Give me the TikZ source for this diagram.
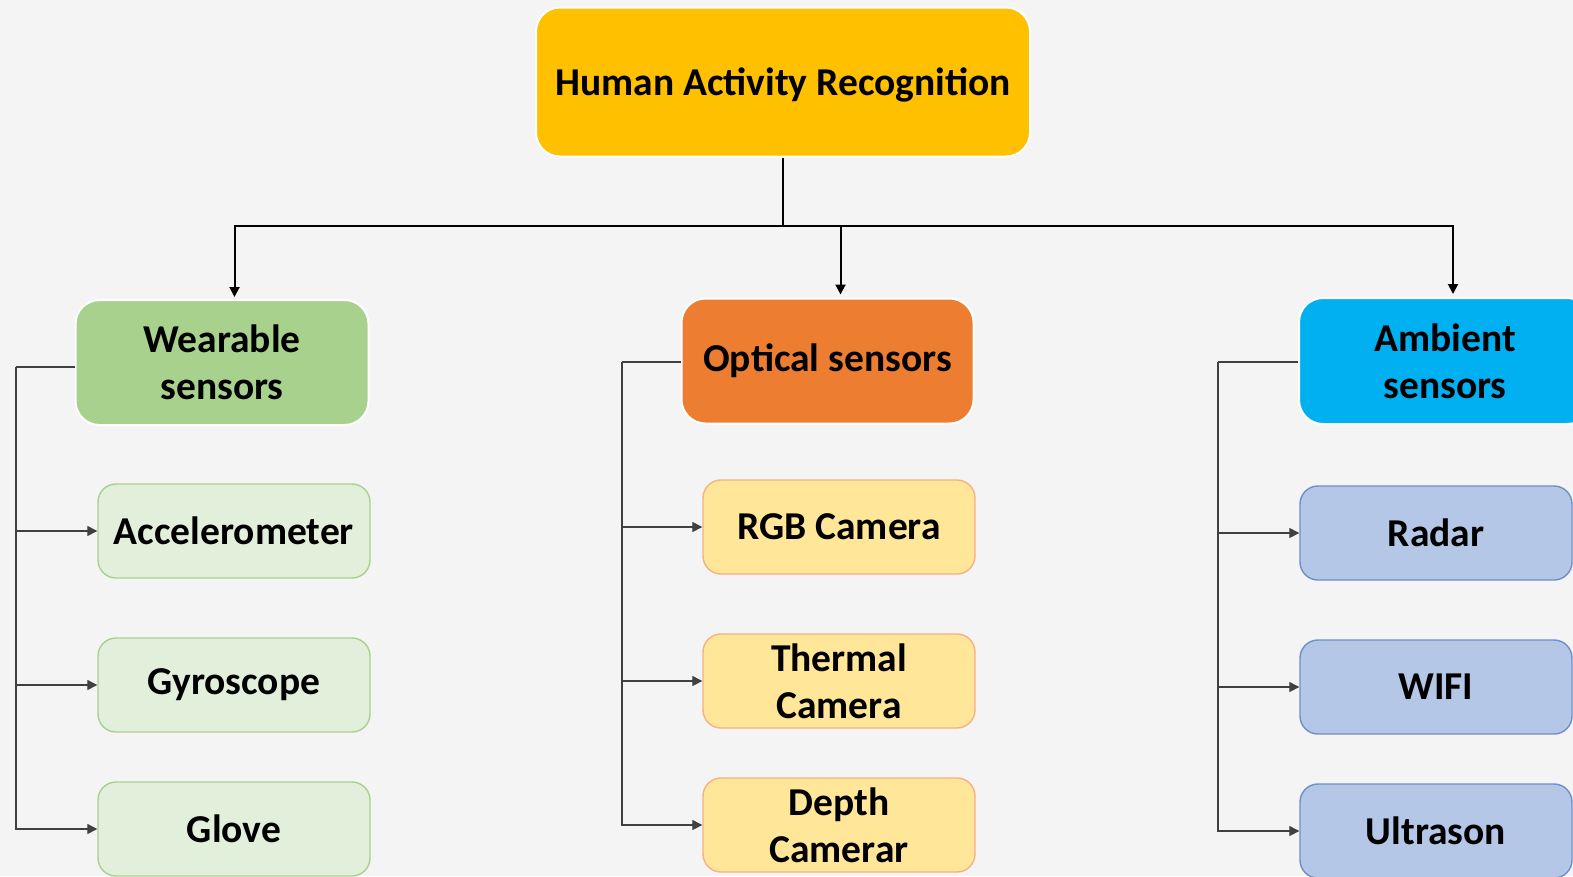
\documentclass[tikz,border=0pt]{standalone}
\usepackage{fontspec}
\setmainfont{Carlito}
\usetikzlibrary{arrows.meta,calc}

\definecolor{bgc}{HTML}{F4F4F4}
\definecolor{harc}{HTML}{FFC000}
\definecolor{wearc}{HTML}{A9D18E}
\definecolor{optc}{HTML}{ED7D31}
\definecolor{ambc}{HTML}{00B0F0}
\definecolor{wchild}{HTML}{E2EFDA}
\definecolor{wchildb}{HTML}{A9D18E}
\definecolor{ochild}{HTML}{FFE699}
\definecolor{ochildb}{HTML}{F4B183}
\definecolor{achild}{HTML}{B4C7E7}
\definecolor{achildb}{HTML}{6F8FC8}
\definecolor{busc}{HTML}{404040}

\tikzset{
  lbl/.style={font=\fontsize{39.5}{47}\selectfont\bfseries, align=center, text=black, inner sep=0pt},
  mainbox/.style={lbl, draw=white, line width=2pt, rounded corners=24pt},
  childbox/.style={lbl, line width=1.4pt, rounded corners=18pt, minimum width=272pt, minimum height=94pt},
  wkid/.style={childbox, fill=wchild, draw=wchildb},
  okid/.style={childbox, fill=ochild, draw=ochildb},
  akid/.style={childbox, fill=achild, draw=achildb},
  trunk/.style={draw=black, line width=2pt},
  bus/.style={draw=busc, line width=1.3pt},
  tip/.style={-{Triangle[length=10pt,width=10pt]}}
}

\begin{document}
\begin{tikzpicture}[x=1pt,y=-1pt]
  \useasboundingbox (0,0) rectangle (1573,876);
  \clip (0,0) rectangle (1573,876);
  \fill[bgc] (0,0) rectangle (1573,876);

  % root
  \node[mainbox, fill=harc, minimum width=494pt, minimum height=149pt] (har) at (783,82) {};
  \node[lbl] at ([yshift=-3pt]har.center) {Human Activity Recognition};

  % sensor families
  \node[mainbox, fill=wearc, minimum width=293pt, minimum height=125pt] (wear) at (222,362.5) {Wearable\\sensors};
  \node[mainbox, fill=optc, minimum width=292pt, minimum height=125pt] (opt) at (827.5,361) {Optical sensors};
  \node[mainbox, fill=ambc, minimum width=292pt, minimum height=126pt] (amb) at (1445,361) {Ambient\\sensors};

  % wearable sensors
  \node[wkid] (acc) at (234,531) {Accelerometer};
  \node[wkid] (gyr) at (234,685) {Gyroscope};
  \node[wkid] (glo) at (234,829) {Glove};

  % optical sensors
  \node[okid] (rgb) at (839,527) {RGB Camera};
  \node[okid] (thm) at (839,681) {Thermal\\Camera};
  \node[okid] (dep) at (839,825) {Depth\\Camerar};

  % ambient sensors
  \node[akid] (rad) at (1436,533) {Radar};
  \node[akid] (wif) at (1436,687) {WIFI};
  \node[akid] (ult) at (1436,831) {Ultrason};

  % root to families
  \coordinate (hub) at (783,226);
  \draw[trunk] (har.south) -- (hub);
  \draw[trunk,tip] (hub) -| ([xshift=12.5pt,yshift=2pt]wear.north);
  \draw[trunk,tip] (hub) -| ([xshift=13pt,yshift=3pt]opt.north);
  \draw[trunk,tip] (hub) -| ([xshift=8pt,yshift=3pt]amb.north);

  % wearable bus
  \coordinate (lb) at (16,367);
  \draw[bus] (wear.west |- lb) -- (lb);
  \draw[bus,tip] (lb) |- (glo.west);
  \draw[bus,tip] (lb |- acc.west) -- (acc.west);
  \draw[bus,tip] (lb |- gyr.west) -- (gyr.west);

  % optical bus
  \coordinate (mb) at (622,362);
  \draw[bus] (opt.west |- mb) -- (mb);
  \draw[bus,tip] (mb) |- (dep.west);
  \draw[bus,tip] (mb |- rgb.west) -- (rgb.west);
  \draw[bus,tip] (mb |- thm.west) -- (thm.west);

  % ambient bus
  \coordinate (rb) at (1218,362);
  \draw[bus] (amb.west |- rb) -- (rb);
  \draw[bus,tip] (rb) |- (ult.west);
  \draw[bus,tip] (rb |- rad.west) -- (rad.west);
  \draw[bus,tip] (rb |- wif.west) -- (wif.west);
\end{tikzpicture}
\end{document}
